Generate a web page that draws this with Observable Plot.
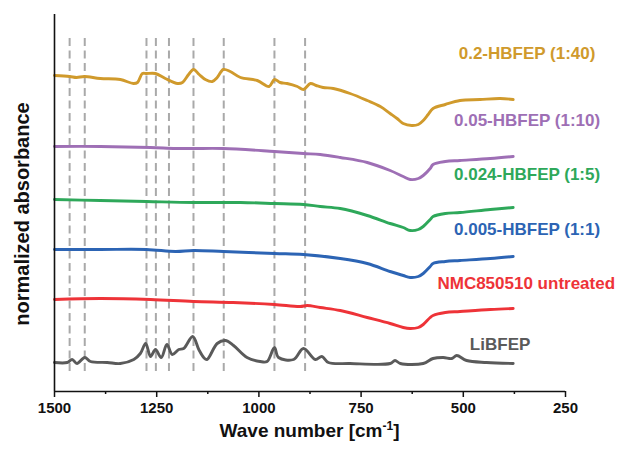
<!DOCTYPE html>
<html>
<head>
<meta charset="utf-8">
<script src="https://cdn.jsdelivr.net/npm/d3@7"></script>
<script src="https://cdn.jsdelivr.net/npm/@observablehq/plot@0.6"></script>
<style>
  html, body { margin: 0; padding: 0; background: #fff; }
  #chart svg { display: block; font-family: "Liberation Sans", Arial, sans-serif; }
</style>
</head>
<body>
<div id="chart"></div>
<script>
// ---- Data (offset normalized absorbance, arbitrary units) ----
const seriesNames = ["0.2-HBFEP (1:40)", "0.05-HBFEP (1:10)", "0.024-HBFEP (1:5)", "0.005-HBFEP (1:1)", "NMC850510 untreated", "LiBFEP"];
const seriesColors = ["#d09a2c", "#9e6fb5", "#2ea85a", "#2c64b4", "#ee3338", "#5a5a5a"];

const wave020 = [1500,1463,1446,1427,1388,1339,1307,1297,1285,1275,1253,1229,1199,1187,1172,1160,1146,1131,1114,1102,1087,1070,1045,1004,975,962,948,931,906,891,874,860,843,818,777,735,703,679,662,647,626,610,598,586,574,544,508,459,410,378];
const abs020  = [3.16,3.15,3.14,3.15,3.13,3.12,3.08,3.09,3.18,3.18,3.18,3.13,3.08,3.09,3.17,3.22,3.17,3.12,3.10,3.14,3.22,3.20,3.14,3.11,3.05,3.12,3.09,3.08,3.05,3.02,3.08,3.06,3.04,3.03,2.98,2.91,2.85,2.78,2.73,2.68,2.66,2.67,2.71,2.77,2.83,2.87,2.91,2.92,2.93,2.92];

const wave005 = [1500,1388,1265,1204,1160,1087,962,891,850,801,735,679,647,630,610,598,581,574,544,508,434,378];
const abs005  = [2.45,2.45,2.44,2.43,2.43,2.43,2.40,2.38,2.37,2.34,2.29,2.21,2.15,2.12,2.13,2.16,2.23,2.27,2.30,2.31,2.33,2.35];

const wave0024 = [1500,1388,1275,1160,1045,962,891,850,801,735,679,647,630,610,598,581,574,544,508,434,378];
const abs0024  = [1.92,1.91,1.90,1.89,1.89,1.88,1.87,1.85,1.83,1.76,1.68,1.64,1.61,1.62,1.65,1.72,1.75,1.78,1.79,1.82,1.84];

const wave0005 = [1500,1388,1275,1204,1160,1087,962,891,801,735,679,647,630,610,598,581,574,544,508,434,378];
const abs0005  = [1.42,1.42,1.42,1.40,1.41,1.40,1.38,1.37,1.33,1.28,1.20,1.16,1.14,1.15,1.18,1.25,1.28,1.30,1.31,1.33,1.35];

const waveNMC = [1500,1388,1265,1160,1063,962,899,882,850,801,735,679,647,630,610,598,581,574,544,508,434,378];
const absNMC  = [0.92,0.93,0.92,0.90,0.89,0.87,0.85,0.86,0.84,0.81,0.74,0.68,0.64,0.63,0.64,0.67,0.74,0.76,0.79,0.80,0.82,0.83];

const waveLi = [1500,1469,1457,1445,1426,1412,1371,1339,1306,1290,1277,1265,1253,1239,1225,1212,1196,1184,1162,1147,1135,1127,1102,1082,1062,1029,997,980,962,952,915,891,862,846,830,777,679,667,654,598,574,549,528,516,492,443,378];
const absLi  = [0.29,0.29,0.32,0.28,0.34,0.30,0.29,0.28,0.32,0.38,0.48,0.35,0.42,0.34,0.47,0.37,0.42,0.43,0.55,0.42,0.34,0.32,0.48,0.51,0.46,0.34,0.30,0.30,0.44,0.34,0.32,0.43,0.32,0.35,0.29,0.28,0.28,0.31,0.28,0.28,0.33,0.34,0.33,0.36,0.31,0.29,0.28];

const peakMarkers = [1463, 1426, 1275, 1252, 1220, 1160, 1086, 962, 887];
const majorTicks = [1500, 1250, 1000, 750, 500, 250];
const minorTicks = [1375, 1125, 875, 625, 375];

// label anchor positions (wavenumber, offset absorbance)
const labelWave = [344, 344, 344, 344, 346, 410];
const labelAbs  = [3.38, 2.71, 2.17, 1.62, 1.08, 0.47];

// ---- Build table ----
const waves = [wave020, wave005, wave0024, wave0005, waveNMC, waveLi];
const absVals = [abs020, abs005, abs0024, abs0005, absNMC, absLi];
const rows = [];
seriesNames.forEach((name, i) => {
  waves[i].forEach((w, j) => rows.push({series: name, wave: w, abs: absVals[i][j]}));
});
const labels = seriesNames.map((name, i) => ({series: name, wave: labelWave[i], abs: labelAbs[i]}));

const W = 617, H = 451;
const chart = Plot.plot({
  width: W,
  height: H,
  marginLeft: 54,
  marginRight: 52,
  marginTop: 14,
  marginBottom: 60,
  style: {fontFamily: '"Liberation Sans", Arial, sans-serif', background: "#fff", overflow: "visible"},
  x: {domain: [1500, 250], label: null},
  y: {domain: [0, 3.77], axis: null},
  color: {domain: seriesNames, range: seriesColors},
  marks: [
    Plot.ruleX(peakMarkers, {y1: 0.20, y2: 3.54, stroke: "#a9a9a9", strokeWidth: 2, strokeDasharray: "8,4.5"}),
    Plot.line(rows, {x: "wave", y: "abs", z: "series", stroke: "series", strokeWidth: 2.9, curve: "catmull-rom"}),
    Plot.text(labels, {x: "wave", y: "abs", text: "series", fill: "series", fontSize: 17, fontWeight: "bold", textAnchor: "middle"}),
    Plot.axisX(majorTicks, {tickSize: 6, tickPadding: 5, tickFormat: d => String(d), fontSize: 15, fontWeight: "bold", fill: "#111", stroke: "#111", strokeWidth: 1.5}),
    Plot.axisX(minorTicks, {tickSize: 3, tickFormat: () => "", stroke: "#111", strokeWidth: 1.5}),
    Plot.ruleY([0], {stroke: "#111", strokeWidth: 1.6}),
    Plot.ruleX([1500], {stroke: "#111", strokeWidth: 1.6})
  ]
});

// axis titles as real text with a superscript
const svg = d3.select(chart);
const xs = chart.scale("x");
const cx = (xs.range[0] + xs.range[1]) / 2;
const xt = svg.append("text")
  .attr("x", cx).attr("y", 437)
  .attr("text-anchor", "middle")
  .attr("font-size", 19).attr("font-weight", "bold").attr("fill", "#111");
xt.append("tspan").text("Wave number [cm");
xt.append("tspan").attr("font-size", 12).attr("dy", -7).text("-1");
xt.append("tspan").attr("dy", 7).text("]");

svg.append("text")
  .attr("transform", "translate(28.5,214) rotate(-90)")
  .attr("text-anchor", "middle")
  .attr("font-size", 20).attr("font-weight", "bold").attr("fill", "#111")
  .text("normalized absorbance");

document.getElementById("chart").appendChild(chart);
</script>
</body>
</html>
